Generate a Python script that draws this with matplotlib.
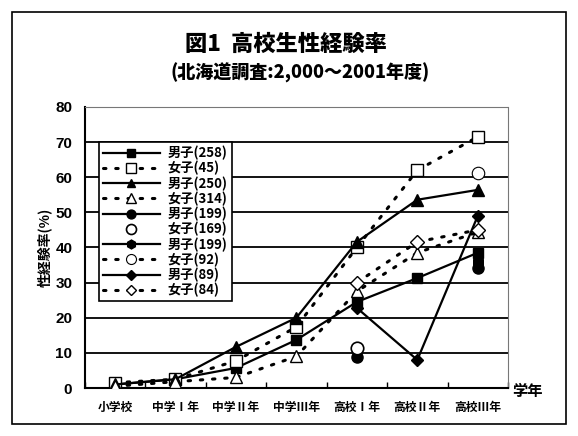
import matplotlib
matplotlib.use("Agg")
import matplotlib.pyplot as plt
from matplotlib import font_manager
from matplotlib.patches import Rectangle
import numpy as np

# ---------------- data ----------------
categories = ["小学校", "中学Ⅰ年", "中学Ⅱ年", "中学Ⅲ年", "高校Ⅰ年", "高校Ⅱ年", "高校Ⅲ年"]
N = None
boys_258 = [1.0, 2.5, 5.7, 13.7, 24.5, 31.3, 38.5]
girls_45 = [1.5, 2.5, 7.7, 17.4, 40.0, 62.0, 71.5]
boys_250 = [1.0, 2.5, 11.7, 20.0, 41.6, 53.6, 56.4]
girls_314 = [0.5, 1.8, 3.0, 9.0, 27.5, 38.5, 44.4]
boys_199a = [N, N, N, N, 8.8, N, 34.2]
girls_169 = [N, N, N, N, 11.5, N, N]
boys_199b = [N, N, N, N, N, N, 36.0]
girls_92 = [N, N, N, N, N, N, 61.3]
boys_89 = [N, N, N, N, 22.8, 8.0, 49.0]
girls_84 = [N, N, N, N, 30.0, 41.6, 45.0]
labels = ["男子(258)", "女子(45)", "男子(250)", "女子(314)", "男子(199)",
          "女子(169)", "男子(199)", "女子(92)", "男子(89)", "女子(84)"]
yticks = [0, 10, 20, 30, 40, 50, 60, 70, 80]

title = "図1  高校生性経験率"
subtitle = "(北海道調査:2,000～2001年度)"
ylabel = "性経験率(%)"
xlabel = "学年"

# ---------------- fonts ----------------
avail = {f.name for f in font_manager.fontManager.ttflist}
def pick(*names):
    for n in names:
        if n in avail:
            return n
    return "DejaVu Sans"
CJK = pick("Noto Sans CJK JP", "Noto Sans CJK SC")
NUM = pick("Liberation Sans Narrow", "Liberation Sans", "DejaVu Sans")
plt.rcParams["font.family"] = [CJK, "DejaVu Sans"]

W, H = 578, 436
fig = plt.figure(figsize=(W / 100, H / 100), dpi=100)
fig.patch.set_facecolor("white")

# outer frame
fig.patches.append(Rectangle((12 / W, 1 - 424 / H), (566 - 12) / W, (424 - 12) / H,
                             transform=fig.transFigure, fill=False, ec="black", lw=1.2))

L, R, T, B = 84.75, 508, 107, 388
ax = fig.add_axes([L / W, 1 - B / H, (R - L) / W, (B - T) / H])

x = np.arange(len(categories))

def arr(v):
    return np.array([np.nan if a is None else a for a in v], dtype=float)

solid = dict(color="black", lw=1.6, ls="-")
dotted = dict(color="black", lw=2.2, ls=(0, (0.8, 3.2)), dash_capstyle="round")

specs = [
    (boys_258, solid, dict(marker="s", mfc="black", mec="black", ms=7)),
    (girls_45, dotted, dict(marker="s", mfc="white", mec="black", ms=9, mew=1.0)),
    (boys_250, solid, dict(marker="^", mfc="black", mec="black", ms=8)),
    (girls_314, dotted, dict(marker="^", mfc="white", mec="black", ms=9, mew=1.0)),
    (boys_199a, solid, dict(marker="o", mfc="black", mec="black", ms=8)),
    (girls_169, dict(color="black", lw=0, ls="none"), dict(marker="o", mfc="white", mec="black", ms=9, mew=1.2)),
    (boys_199b, solid, dict(marker="h", mfc="black", mec="black", ms=8)),
    (girls_92, dotted, dict(marker="o", mfc="white", mec="black", ms=9, mew=0.8)),
    (boys_89, solid, dict(marker="D", mfc="black", mec="black", ms=6.5)),
    (girls_84, dotted, dict(marker="D", mfc="white", mec="black", ms=7, mew=1.0)),
]

handles = []
for (vals, lstyle, mstyle), lab in zip(specs, labels):
    h, = ax.plot(x, arr(vals), label=lab, zorder=3, **lstyle, **mstyle)
    handles.append(h)

ax.set_xlim(-0.5, len(categories) - 0.5)
ax.set_ylim(0, 80)
ax.set_yticks(yticks)
ax.set_yticklabels([str(t) for t in yticks], fontfamily=NUM, fontweight="bold", fontsize=11)
ax.set_xticks(x)
ax.set_xticklabels(categories, fontsize=8.5, fontweight="bold")
ax.tick_params(axis="x", length=0, pad=9)
ax.tick_params(axis="y", length=0, pad=9)
# minor ticks at category boundaries, pointing inward
ax.set_xticks(np.arange(-0.5, len(categories)), minor=True)
ax.tick_params(axis="x", which="minor", direction="in", length=4, width=1)

for t in yticks[1:-1]:
    ax.axhline(t, color="black", lw=1.3, zorder=1)
ax.spines["left"].set_linewidth(1.5)
ax.spines["bottom"].set_linewidth(1.5)
ax.spines["top"].set_color("#777777")
ax.spines["top"].set_linestyle((0, (2, 1)))
ax.spines["right"].set_color("#777777")
ax.spines["right"].set_linestyle((0, (2, 1)))

ax.set_ylabel(ylabel, fontsize=10, fontweight="bold")
ax.yaxis.set_label_coords((52 - L) / (R - L), 0.5)

fig.text(527 / W, 1 - 391 / H, xlabel, ha="center", va="center", fontsize=11, fontweight="bold")
fig.text(286 / W, 1 - 44 / H, title, ha="center", va="center", fontsize=16, fontweight="heavy")
fig.text(300 / W, 1 - 73 / H, subtitle, ha="center", va="center", fontsize=13, fontweight="heavy")

leg = ax.legend(handles=handles, loc="upper left",
                bbox_to_anchor=((99 - L) / (R - L), (B - 142) / (B - T)),
                prop=dict(family=[CJK], weight="bold", size=9.5),
                frameon=True, fancybox=False, edgecolor="black", framealpha=1,
                handlelength=4.3, labelspacing=0.06, borderpad=0.3, handletextpad=0.6,
                borderaxespad=0, markerscale=0.8)
leg.get_frame().set_linewidth(1.2)
leg.set_zorder(5)

fig.savefig("out.png", dpi=100, facecolor="white")
